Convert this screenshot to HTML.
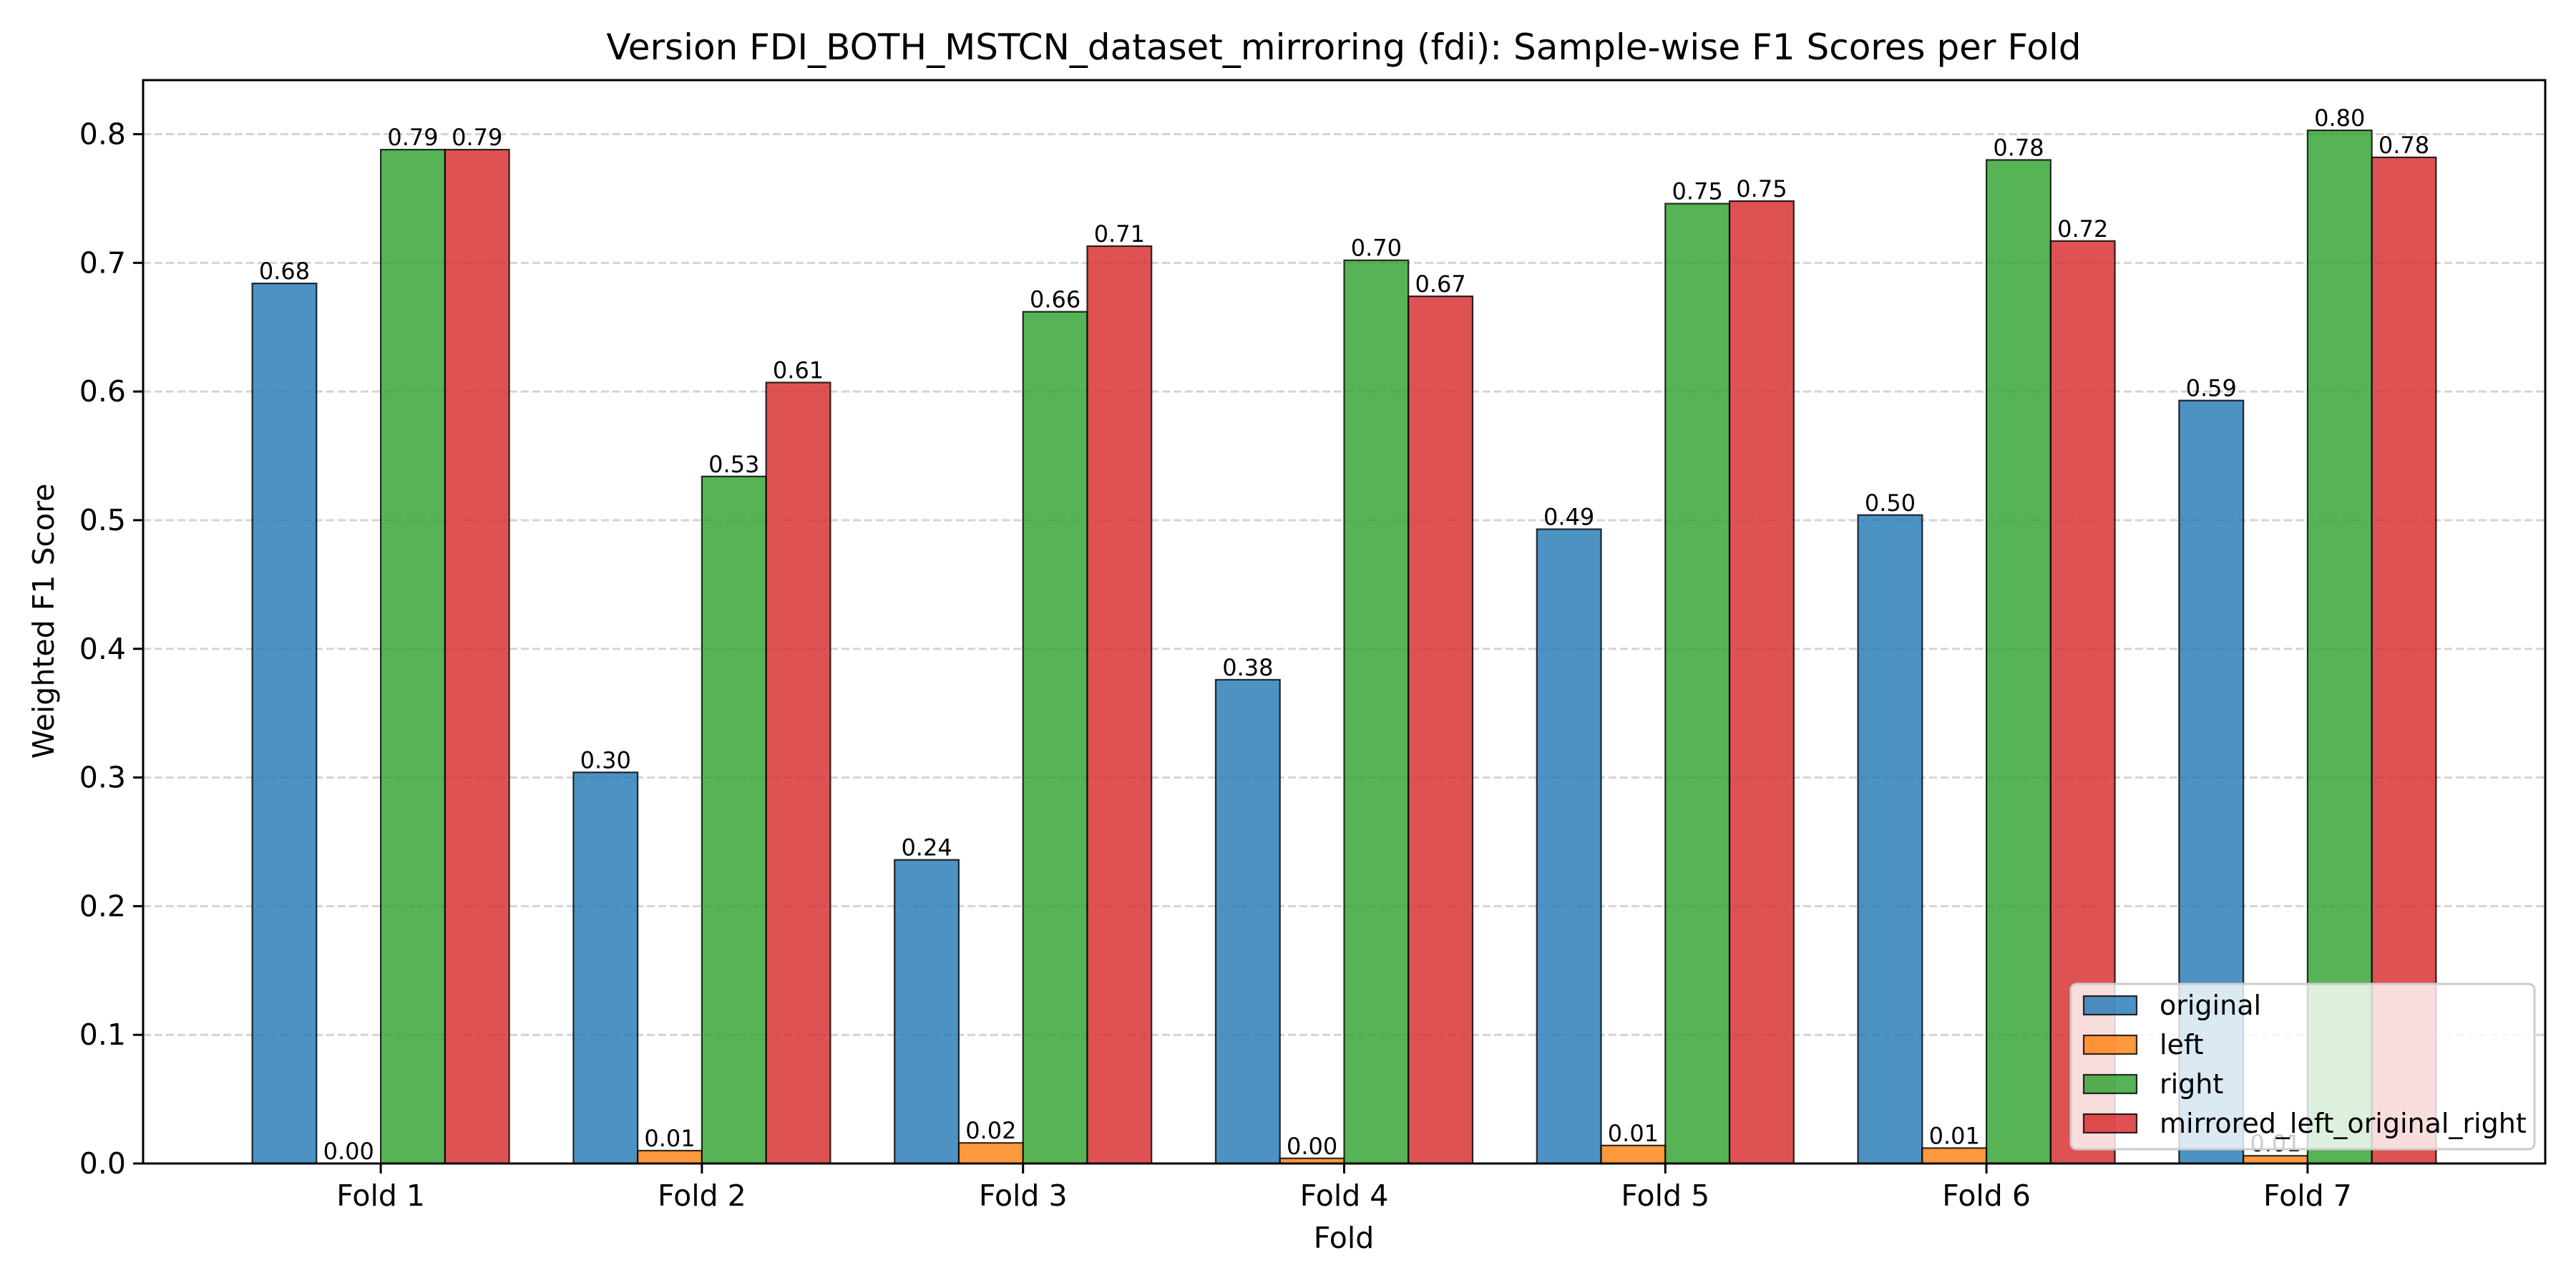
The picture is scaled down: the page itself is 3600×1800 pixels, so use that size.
<!DOCTYPE html>
<html><head><meta charset="utf-8">
<style>html,body{margin:0;padding:0;background:#fff}svg{display:block}text{font-family:"DejaVu Sans","Liberation Sans",sans-serif}</style>
</head><body>
<svg id="chart" width="3600" height="1800" viewBox="0 0 3600 1800" xmlns="http://www.w3.org/2000/svg">
<text x="1878" y="83" font-size="50" text-anchor="middle">Version FDI_BOTH_MSTCN_dataset_mirroring (fdi): Sample-wise F1 Scores per Fold</text>
<text x="1878" y="1744" font-size="41" text-anchor="middle">Fold</text>
<text transform="translate(75,868) rotate(-90)" font-size="41" text-anchor="middle">Weighted F1 Score</text>
<g id="grid"></g>
<g id="bars"></g>
<g id="axes"></g>
<g id="legend"></g>
</svg>
<script>
const categories = ["Fold 1","Fold 2","Fold 3","Fold 4","Fold 5","Fold 6","Fold 7"];
const seriesNames = ["original","left","right","mirrored_left_original_right"];
const original = [0.684,0.304,0.236,0.376,0.493,0.504,0.593];
const left = [0.0,0.010,0.016,0.004,0.014,0.012,0.006];
const right = [0.788,0.534,0.662,0.702,0.746,0.780,0.803];
const mirrored = [0.788,0.607,0.713,0.674,0.748,0.717,0.782];
const yTicks = [0.0,0.1,0.2,0.3,0.4,0.5,0.6,0.7,0.8];
const colors = ["#1f77b4","#ff7f0e","#2ca02c","#d62728"];
const series = [original,left,right,mirrored];

const NS="http://www.w3.org/2000/svg";
const L=200,R=3557,T=112,B=1626;
const xmin=-0.74,xmax=6.74,ymin=0,ymax=0.842;
const xs=v=>L+(v-xmin)/(xmax-xmin)*(R-L);
const ys=v=>B-(v-ymin)/(ymax-ymin)*(B-T);
function mk(tag,attrs,parent,txt){const e=document.createElementNS(NS,tag);for(const k in attrs)e.setAttribute(k,attrs[k]);if(txt!==undefined)e.textContent=txt;parent.appendChild(e);return e;}
const grid=document.getElementById('grid'),bars=document.getElementById('bars'),axes=document.getElementById('axes'),legend=document.getElementById('legend');

yTicks.forEach(t=>{
  const g=mk('line',{x1:L,x2:R,y1:ys(t),y2:ys(t),stroke:'#b0b0b0','stroke-opacity':0.55,'stroke-width':3,'stroke-dasharray':'11,5'},grid);
  
  
});
const w=0.2;
series.forEach((s,si)=>{
  s.forEach((v,ci)=>{
    const cx=ci+(si-1.5)*w;
    const x0=xs(cx-w/2),x1=xs(cx+w/2);
    const r=mk('rect',{x:x0,y:ys(v),width:x1-x0,height:ys(0)-ys(v),fill:colors[si],'fill-opacity':0.8,stroke:'#000','stroke-opacity':0.8,'stroke-width':2.2},bars);
    
    
    const tx=mk('text',{x:xs(cx),y:ys(v)-6,'font-size':32,'text-anchor':'middle'},bars,v.toFixed(2));
    
    
  });
});
const sp=mk('rect',{x:L,y:T,width:R-L,height:B-T,fill:'none',stroke:'#000','stroke-width':3},axes);


yTicks.forEach(t=>{
  const tk=mk('line',{x1:L-14,x2:L,y1:ys(t),y2:ys(t),stroke:'#000','stroke-width':3},axes);
  
  
  const lb=mk('text',{x:L-24,y:ys(t)+14,'font-size':41,'text-anchor':'end'},axes,t.toFixed(1));
  
  
});
categories.forEach((c,i)=>{
  const tk=mk('line',{x1:xs(i),x2:xs(i),y1:B,y2:B+14,stroke:'#000','stroke-width':3},axes);
  
  
  const lb=mk('text',{x:xs(i),y:B+59,'font-size':41,'text-anchor':'middle'},axes,c);
  
  
});
const box=mk('rect',{x:2894,y:1375,width:648,height:231,rx:8,fill:'#fff','fill-opacity':0.8,stroke:'#ccc','stroke-width':3},legend);


seriesNames.forEach((n,i)=>{
  const cy=1405+i*55;
  const sw=mk('rect',{x:2912,y:cy-13,width:74,height:26,fill:colors[i],'fill-opacity':0.8,stroke:'#000','stroke-opacity':0.8,'stroke-width':2.2},legend);
  
  
  const lt=mk('text',{x:3018,y:cy+13,'font-size':38},legend,n);
  
  
});
</script>
</body></html>
